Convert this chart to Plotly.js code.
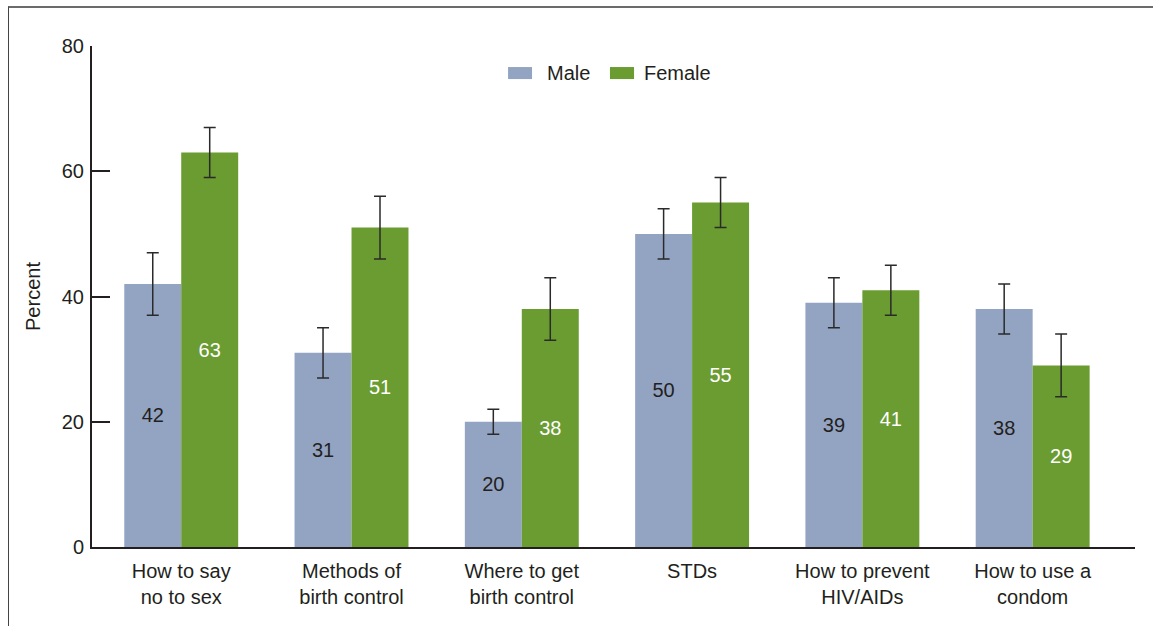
<!DOCTYPE html>
<html>
<head>
<meta charset="utf-8">
<script src="https://cdn.plot.ly/plotly-3.0.1.min.js"></script>
<style>
  html, body { margin: 0; padding: 0; background: #ffffff; }
  #chart { width: 1153px; height: 626px; position: absolute; left: 0; top: 0; }
  #frame { position: absolute; left: 8px; top: 6px; width: 1145px; height: 620px;
           border-top: 2px solid #6b6b6b; border-left: 1px solid #444444;
           pointer-events: none; }
</style>
</head>
<body>
<div id="chart"></div>
<div id="frame"></div>
<script>
// ---- data ----
var categories = [
  "How to say<br>no to sex",
  "Methods of<br>birth control",
  "Where to get<br>birth control",
  "STDs",
  "How to prevent<br>HIV/AIDs",
  "How to use a<br>condom"
];
var seriesNames = ["Male", "Female"];
var maleValues = [42, 31, 20, 50, 39, 38];
var femaleValues = [63, 51, 38, 55, 41, 29];
var maleErrPlus = [5, 4, 2, 4, 4, 4];
var maleErrMinus = [5, 4, 2, 4, 4, 4];
var femaleErrPlus = [4, 5, 5, 4, 4, 5];
var femaleErrMinus = [4, 5, 5, 4, 4, 5];
var yTicks = [0, 20, 40, 60, 80];
var yTitle = "Percent";

// ---- style ----
var FONT = "Liberation Sans, Arial, Helvetica, sans-serif";
var DARK = "#231f20";
var maleColor = "#93a4c3";
var femaleColor = "#6a9c31";
var FS = 20;

function errBar(plus, minus) {
  return { type: "data", symmetric: false, array: plus, arrayminus: minus,
           color: "#2a2a2a", thickness: 1.5, width: 6 };
}

var traces = [
  {
    type: "bar", name: seriesNames[0], x: categories, y: maleValues,
    marker: { color: maleColor },
    error_y: errBar(maleErrPlus, maleErrMinus),
    text: maleValues.map(String), textposition: "inside", insidetextanchor: "middle",
    textangle: 0, constraintext: "none",
    textfont: { family: FONT, size: FS, color: DARK },
    hoverinfo: "skip", showlegend: false
  },
  {
    type: "bar", name: seriesNames[1], x: categories, y: femaleValues,
    marker: { color: femaleColor },
    error_y: errBar(femaleErrPlus, femaleErrMinus),
    text: femaleValues.map(String), textposition: "inside", insidetextanchor: "middle",
    textangle: 0, constraintext: "none",
    textfont: { family: FONT, size: FS, color: "#ffffff" },
    hoverinfo: "skip", showlegend: false
  }
];

// custom legend (wide swatches)
var legendItems = [
  { name: seriesNames[0], color: maleColor, x0: 0.3989, x1: 0.4219, tx: 0.4343 },
  { name: seriesNames[1], color: femaleColor, x0: 0.4966, x1: 0.5197, tx: 0.5273 }
];
var shapes = legendItems.map(function (it) {
  return { type: "rect", xref: "paper", yref: "paper", x0: it.x0, x1: it.x1,
           y0: 0.934, y1: 0.958, fillcolor: it.color, line: { width: 0 } };
});
var annotations = legendItems.map(function (it) {
  return { xref: "paper", yref: "paper", x: it.tx, y: 0.946, xanchor: "left", yanchor: "middle",
           text: it.name, showarrow: false, font: { family: FONT, size: FS, color: DARK } };
});

var layout = {
  width: 1153, height: 626,
  margin: { l: 92, r: 18, t: 46, b: 79, pad: 0 },
  paper_bgcolor: "#ffffff", plot_bgcolor: "#ffffff",
  font: { family: FONT, size: FS, color: DARK },
  barmode: "group", bargap: 0.331, bargroupgap: 0,
  showlegend: false,
  xaxis: {
    type: "category", range: [-0.524, 5.601],
    showline: true, linecolor: DARK, linewidth: 2,
    ticks: "", showgrid: false, zeroline: false,
    ticklabelstandoff: 5,
    tickfont: { family: FONT, size: FS, color: DARK }
  },
  yaxis: {
    range: [0, 80], tickvals: yTicks, ticktext: yTicks.map(String),
    showline: true, linecolor: DARK, linewidth: 2,
    ticks: "inside", ticklen: 18, tickwidth: 2, tickcolor: DARK,
    showgrid: false, zeroline: false,
    ticklabelstandoff: 2,
    tickfont: { family: FONT, size: FS, color: DARK },
    title: { text: yTitle, font: { family: FONT, size: FS, color: DARK }, standoff: 16 }
  },
  shapes: shapes,
  annotations: annotations
};

Plotly.newPlot("chart", traces, layout, { staticPlot: true, displayModeBar: false });
</script>
</body>
</html>
